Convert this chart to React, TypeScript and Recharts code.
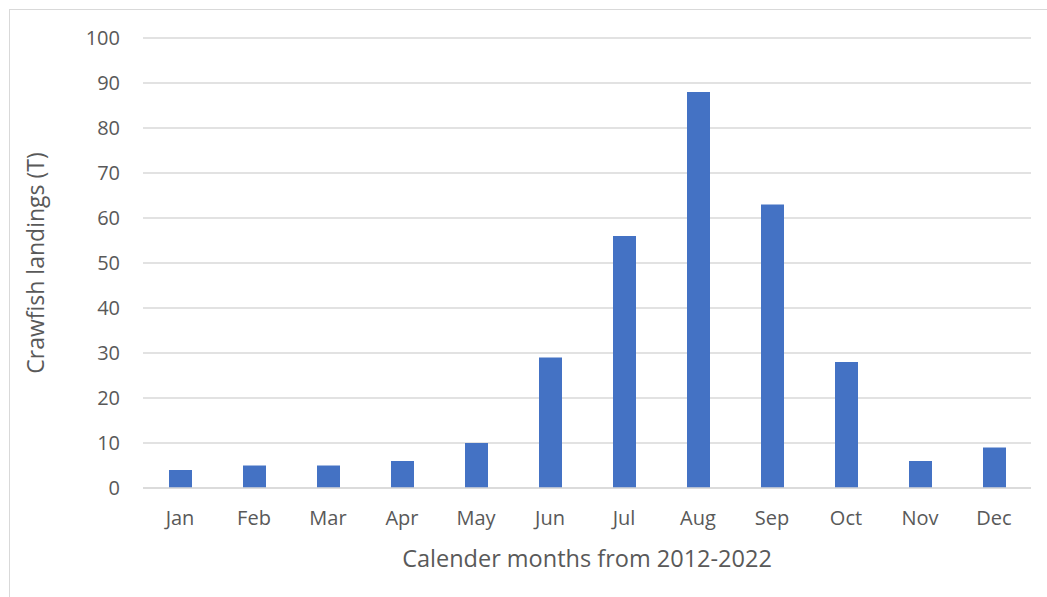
import React from 'react';
import { BarChart, Bar, XAxis, YAxis, CartesianGrid, Label } from 'recharts';

// Monthly crawfish landings (T)
const months = ['Jan', 'Feb', 'Mar', 'Apr', 'May', 'Jun', 'Jul', 'Aug', 'Sep', 'Oct', 'Nov', 'Dec'];
const landings = [4, 5, 5, 6, 10, 29, 56, 88, 63, 28, 6, 9];
const yTicks = [0, 10, 20, 30, 40, 50, 60, 70, 80, 90, 100];

const data = months.map((m, i) => ({ month: m, value: landings[i] }));

const FONT = '"Open Sans", sans-serif';
const TEXT = '#595959';
const GRID = '#d9d9d9';

const YTitle = ({ viewBox }: any) => {
  const cx = 35;
  const cy = viewBox.y + viewBox.height / 2;
  return (
    <text
      x={cx}
      y={cy}
      transform={`rotate(-90, ${cx}, ${cy})`}
      textAnchor="middle"
      dominantBaseline="central"
      fill={TEXT}
      fontSize={23}
      fontFamily={FONT}
    >
      Crawfish landings (T)
    </text>
  );
};

const XTitle = ({ viewBox }: any) => {
  const cx = viewBox.x + viewBox.width / 2;
  return (
    <text
      x={cx}
      y={558}
      textAnchor="middle"
      dominantBaseline="central"
      fill={TEXT}
      fontSize={23.5}
      fontFamily={FONT}
    >
      Calender months from 2012-2022
    </text>
  );
};

export default function App() {
  return (
    <div style={{ position: 'absolute', left: 0, top: 0, width: 1047, height: 597, background: '#fff' }}>
      <div
        style={{
          position: 'absolute',
          left: 9,
          top: 9,
          right: -2,
          bottom: -2,
          borderTop: `1px solid ${GRID}`,
          borderLeft: `1px solid ${GRID}`,
        }}
      />
      <div style={{ position: 'absolute', left: 0, top: 0 }}>
        <BarChart
          width={1047}
          height={597}
          data={data}
          margin={{ top: 38, right: 16, left: 23, bottom: 69 }}
          barSize={23}
        >
          <CartesianGrid vertical={false} stroke={GRID} strokeWidth={1.5} />
          <XAxis
            dataKey="month"
            height={40}
            tickLine={false}
            axisLine={{ stroke: GRID, strokeWidth: 1.5 }}
            tick={{ fill: TEXT, fontSize: 20, fontFamily: FONT }}
            tickMargin={17}
            interval={0}
          >
            <Label content={<XTitle />} />
          </XAxis>
          <YAxis
            width={120}
            domain={[0, 100]}
            ticks={yTicks}
            tickLine={false}
            axisLine={false}
            tick={{ fill: TEXT, fontSize: 20, fontFamily: FONT }}
            tickMargin={17}
          >
            <Label content={<YTitle />} />
          </YAxis>
          <Bar dataKey="value" fill="#4472C4" isAnimationActive={false} />
        </BarChart>
      </div>
    </div>
  );
}
